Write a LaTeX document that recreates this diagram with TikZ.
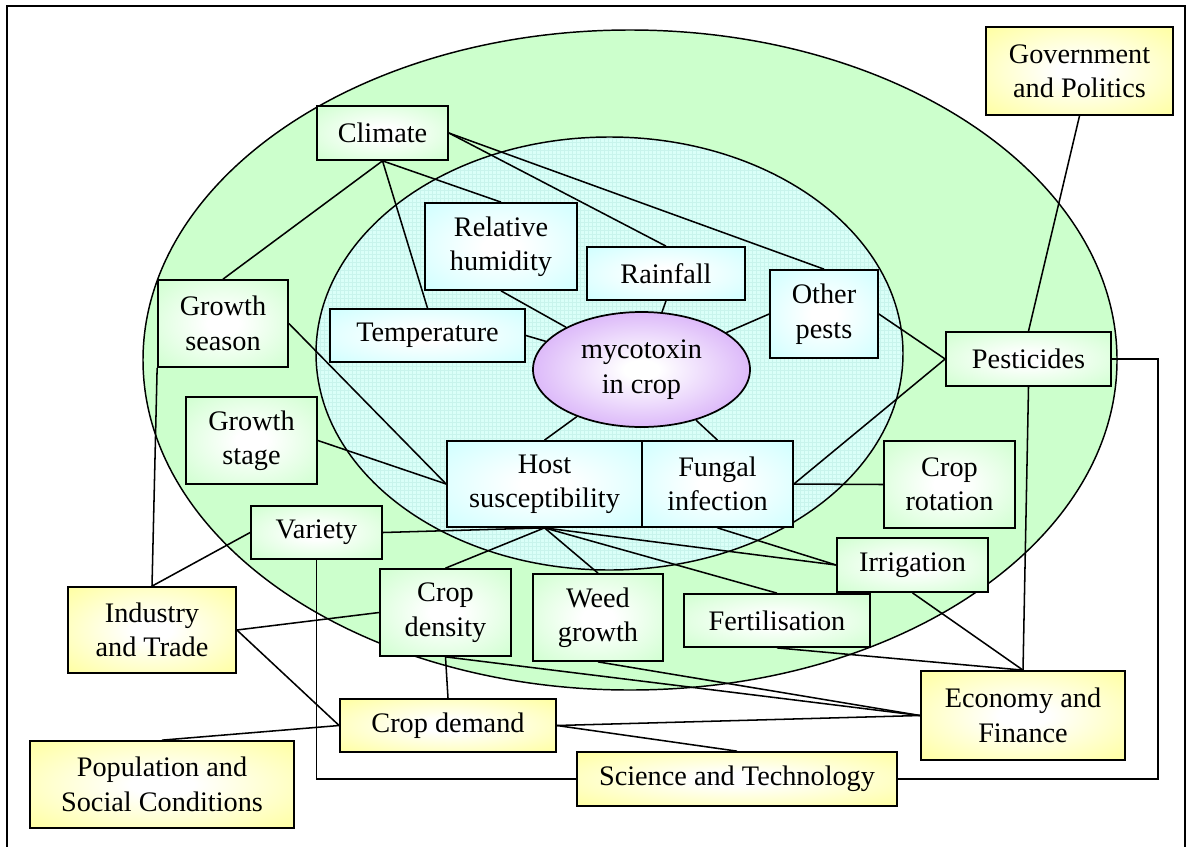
\documentclass[tikz,border=0pt]{standalone}
\usepackage{fontspec}
\setmainfont{Liberation Serif}
\usetikzlibrary{shapes.geometric,patterns}

\definecolor{bgreen}{RGB}{204,255,204}
\definecolor{bcyan}{RGB}{204,255,255}
\definecolor{byellow}{RGB}{255,255,153}
\definecolor{bpurple}{RGB}{196,136,245}
\definecolor{ringgreen}{RGB}{204,255,204}
\definecolor{corefill}{RGB}{218,255,248}
\definecolor{coregrid}{RGB}{200,244,236}

% soft white glow in the middle of every box
\pgfdeclareradialshading{glowg}{\pgfpointorigin}{color(0bp)=(white); color(6bp)=(white); color(38bp)=(bgreen); color(50bp)=(bgreen)}
\pgfdeclareradialshading{glowc}{\pgfpointorigin}{color(0bp)=(white); color(6bp)=(white); color(38bp)=(bcyan); color(50bp)=(bcyan)}
\pgfdeclareradialshading{glowy}{\pgfpointorigin}{color(0bp)=(white); color(6bp)=(white); color(38bp)=(byellow); color(50bp)=(byellow)}
\pgfdeclareradialshading{glowp}{\pgfpointorigin}{color(0bp)=(white); color(4bp)=(white); color(40bp)=(bpurple); color(50bp)=(bpurple)}

\tikzset{
  lbl/.style={draw, line width=1.3pt, inner sep=0pt, align=center,
    font=\fontsize{21.2pt}{25.8pt}\selectfont},
  sz/.style 2 args={minimum width=#1*0.75pt, minimum height=#2*0.75pt},
  gbox/.style={lbl, shade, shading=glowg},
  cbox/.style={lbl, shade, shading=glowc},
  ybox/.style={lbl, shade, shading=glowy},
  core/.style={lbl, ellipse, shade, shading=glowp},
  link/.style={line width=1.15pt},
}

\begin{document}
\begin{tikzpicture}[x=0.75pt, y=-0.75pt]
\useasboundingbox (0,0) rectangle (1187,846);
\clip (0,0) rectangle (1187,846);

% frame
\draw[line width=1.4pt] (7,6) rectangle (1185,870);

% outer ring and inner core region
\draw[fill=ringgreen, line width=1.1pt] (630,360) ellipse [x radius=365.25pt, y radius=247.5pt];
\fill[corefill] (609.5,353.5) ellipse [x radius=220.125pt, y radius=162.375pt];
\fill[pattern=grid, pattern color=coregrid] (609.5,353.5) ellipse [x radius=220.125pt, y radius=162.375pt];
\draw[line width=1.1pt] (609.5,353.5) ellipse [x radius=220.125pt, y radius=162.375pt];

% central node
\node[core, sz={217}{115}] (myco) at (641.5,369.5) {mycotoxin\\in crop};

% inner factors
\node[cbox, sz={152}{87}] (rh)   at (501,246.5)   {Relative\\humidity};
\node[cbox, sz={158}{53}] (rain) at (666,273.5)   {Rainfall};
\node[cbox, sz={108}{88}] (op)   at (824,314)     {Other\\pests};
\node[cbox, sz={195}{53}] (temp) at (427.5,335.5) {Temperature};
\node[cbox, sz={195}{86}] (host) at (544.5,484)   {Host\\susceptibility};
\node[cbox, sz={151}{86}] (fung) at (717.5,484)   {Fungal\\infection};

% middle ring factors
\node[gbox, sz={131}{54}] (clim) at (382.5,133)   {Climate};
\node[gbox, sz={130}{87}] (gs)   at (223,323.5)   {Growth\\season};
\node[gbox, sz={131}{87}] (gst)  at (251.5,440.5) {Growth\\stage};
\node[gbox, sz={131}{53}] (var)  at (316.5,532.5) {Variety};
\node[gbox, sz={131}{87}] (cd)   at (445.5,612.5) {Crop\\density};
\node[gbox, sz={130}{87}] (weed) at (598,617.5)   {Weed\\growth};
\node[gbox, sz={186}{53}] (fert) at (777,620.5)   {Fertilisation};
\node[gbox, sz={151}{54}] (irr)  at (912.5,565)   {Irrigation};
\node[gbox, sz={131}{87}] (rot)  at (949.5,484.5) {Crop\\rotation};
\node[gbox, sz={165}{54}] (pest) at (1028.5,359)  {Pesticides};

% outer drivers
\node[ybox, sz={187}{88}] (gov)  at (1079.5,71)   {Government\\and Politics};
\node[ybox, sz={168}{86}] (ind)  at (152,630)     {Industry\\and Trade};
\node[ybox, sz={216}{53}] (cdem) at (448,725.5)   {Crop demand};
\node[ybox, sz={264}{87}] (pop)  at (162,784.5)   {Population and\\Social Conditions};
\node[ybox, sz={204}{89}] (econ) at (1023,715.5)  {Economy and\\Finance};
\node[ybox, sz={320}{54}] (sci)  at (737,779)     {Science and Technology};

\coordinate (pturn) at (1158,359);

% connectors
\begin{scope}[link]
\draw (clim.south) -- (gs.north);
\draw (clim.south) -- (temp.north);
\draw (clim.south) -- (rh.north);
\draw (clim.east) -- (rain.north);
\draw (clim.east) -- (op.north);
\draw (rh.south) -- (myco);
\draw (rain.south) -- (myco);
\draw (temp.east) -- (myco);
\draw (op.west) -- (myco);
\draw (myco) -- (host.north);
\draw (myco) -- (fung.north);
\draw (gs.east) -- (host.west);
\draw (gst.east) -- (host.west);
\draw (gs.south west) -- (ind.north);
\draw (ind.north) -- (var.west);
\draw (ind.east) -- (cd.west);
\draw (ind.east) -- (cdem.west);
\draw (pop.north) -- (cdem.west);
\draw (var.east) -- (host.south);
\draw (var.south) |- (sci.west);
\draw (host.south) -- (cd.north);
\draw (host.south) -- (weed.north);
\draw (host.south) -- (fert.north);
\draw (host.south) -- (irr.west);
\draw (fung.south) -- (irr.west);
\draw (fung.east) -- (rot.west);
\draw (fung.east) -- (pest.west);
\draw (op.east) -- (pest.west);
\draw (gov.south) -- (pest.north);
\draw (pest.south) -- (econ.north);
\draw (pest.east) -- (pturn) |- (sci.east);
\draw (irr.south) -- (econ.north);
\draw (fert.south) -- (econ.north);
\draw (cd.south) -- (cdem.north);
\draw (cd.south) -- (econ.west);
\draw (weed.south) -- (econ.west);
\draw (cdem.east) -- (econ.west);
\draw (cdem.east) -- (sci.north);
\end{scope}
\end{tikzpicture}
\end{document}
